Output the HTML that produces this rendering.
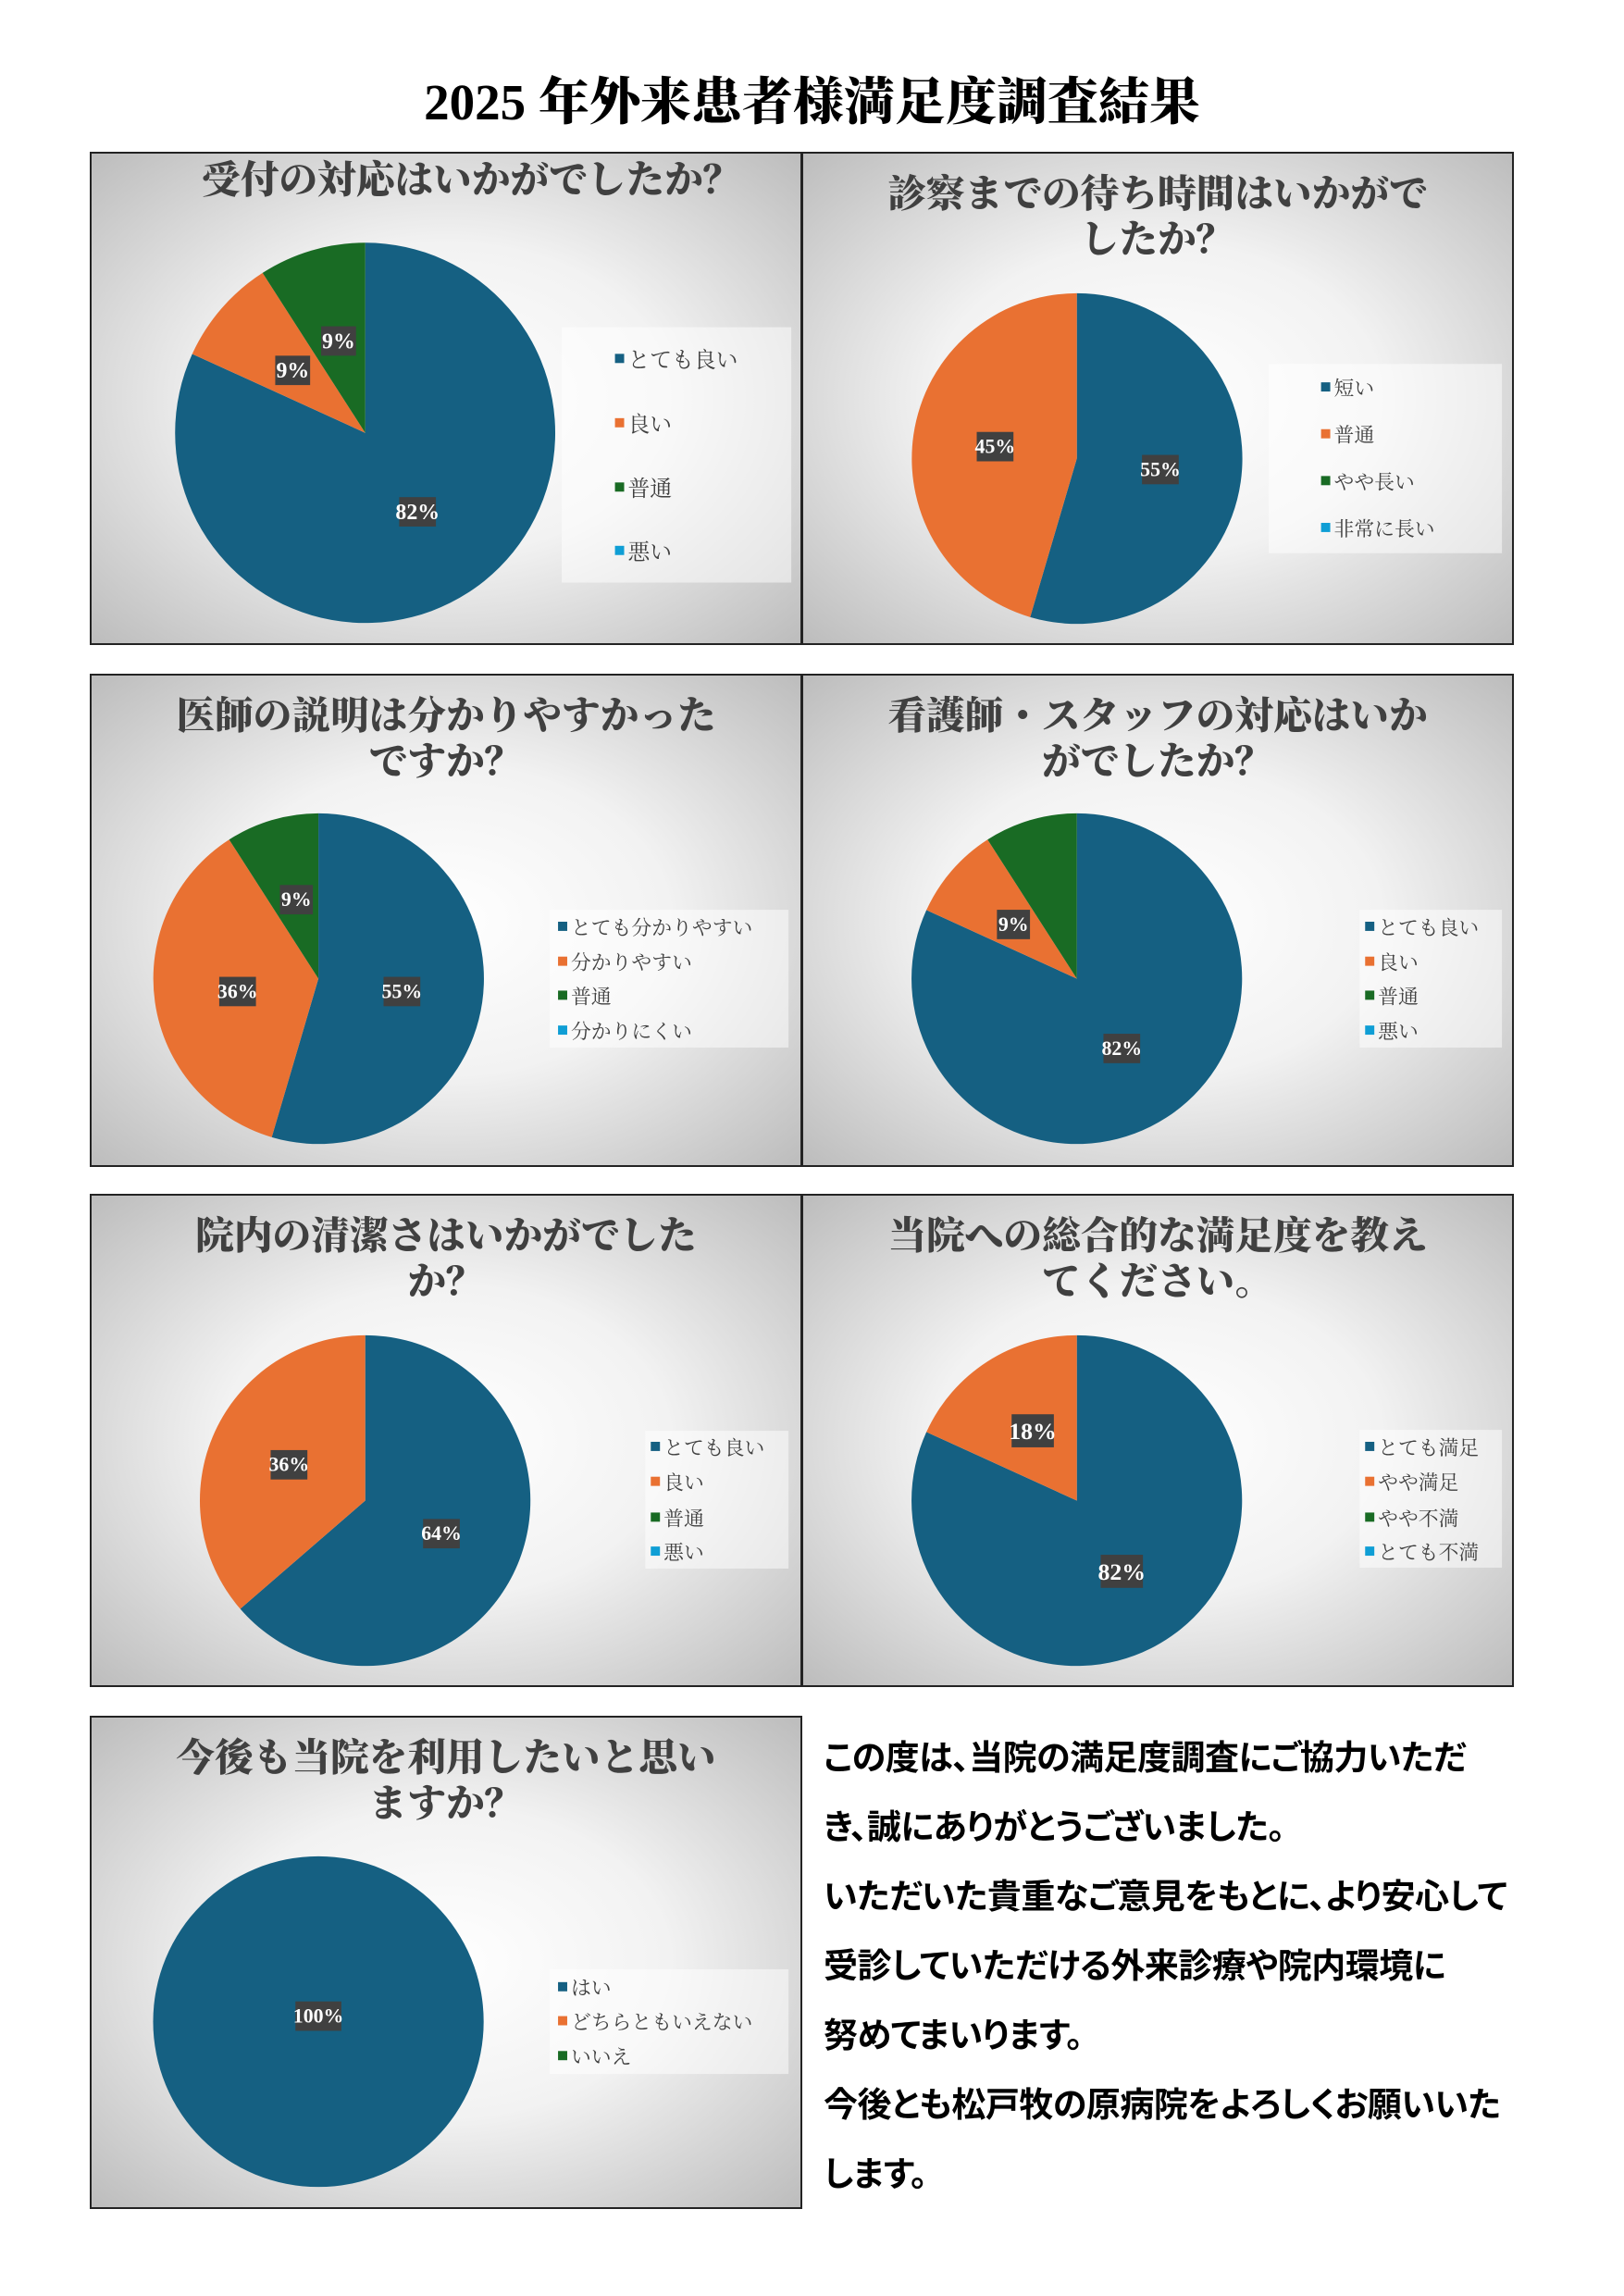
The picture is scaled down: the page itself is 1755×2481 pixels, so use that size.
<!DOCTYPE html>
<html><head><meta charset="utf-8">
<style>
body{margin:0;width:1755px;height:2481px;background:#fff;position:relative;overflow:hidden;}
.t{position:absolute;left:0;width:1755px;top:76px;text-align:center;font-family:"Liberation Serif","Noto Serif CJK SC",serif;font-weight:900;font-size:55px;color:#000;line-height:70px;}
svg{position:absolute;}
.p text{font-family:"Liberation Serif","Noto Serif CJK SC",serif;}
.msg{position:absolute;left:890px;top:1862px;width:820px;font-family:"Liberation Sans","Noto Sans CJK JP",sans-serif;font-weight:700;font-size:37px;line-height:75px;color:#000;letter-spacing:-0.5px;font-feature-settings:"palt" 1;}
</style></head><body>
<div class="t">2025 年外来患者様満足度調査結果</div>
<svg width="0" height="0"><defs>
<radialGradient id="bg" cx="50%" cy="50%" r="70%"><stop offset="0" stop-color="#ffffff"/><stop offset="0.45" stop-color="#f2f2f2"/><stop offset="1" stop-color="#bdbdbd"/></radialGradient>
</defs></svg>

<!-- Panel 1 -->
<svg class="p" style="left:97px;top:164px" width="770" height="533" viewBox="0 0 776 537" preserveAspectRatio="none">
<rect x="1" y="1" width="774" height="535" fill="url(#bg)" stroke="#222" stroke-width="2"/>
<text x="416" y="45" text-anchor="middle" font-size="42" font-weight="900" fill="#404040">受付の対応はいかがでしたか？</text>
<path d="M300,306 L300,99 A207,207 0 1 1 111.6,220.1 Z" fill="#156082"/>
<path d="M300,306 L111.6,220.1 A207,207 0 0 1 188.2,131.9 Z" fill="#E97132"/>
<path d="M300,306 L188.2,131.9 A207,207 0 0 1 300,99 Z" fill="#196B24"/>
<g font-size="24" font-weight="700" fill="#fff" text-anchor="middle">
<rect x="337" y="376" width="40" height="32" fill="#404040"/><text x="357" y="400">82%</text>
<rect x="202" y="222" width="38" height="32" fill="#404040"/><text x="221" y="246">9%</text>
<rect x="252" y="190" width="38" height="32" fill="#404040"/><text x="271" y="214">9%</text>
</g>
<rect x="514" y="191" width="250" height="278" fill="#fff" fill-opacity="0.5"/>
<g font-size="24" fill="#404040">
<rect x="572" y="220" width="10" height="10" fill="#156082"/><text x="586" y="235">とても良い</text>
<rect x="572" y="290" width="10" height="10" fill="#E97132"/><text x="586" y="305">良い</text>
<rect x="572" y="360" width="10" height="10" fill="#196B24"/><text x="586" y="375">普通</text>
<rect x="572" y="429" width="10" height="10" fill="#0F9ED5"/><text x="586" y="444">悪い</text>
</g></svg>

<!-- Panel 2 -->
<svg class="p" style="left:866px;top:164px" width="770" height="533" viewBox="0 0 776 537" preserveAspectRatio="none">
<rect x="1" y="1" width="774" height="535" fill="url(#bg)" stroke="#222" stroke-width="2"/>
<text x="388" y="60" text-anchor="middle" font-size="42" font-weight="900" fill="#404040">診察までの待ち時間はいかがで</text>
<text x="388" y="110" text-anchor="middle" font-size="42" font-weight="900" fill="#404040">したか？</text>
<path d="M300,334 L300,154 A180,180 0 1 1 249.2,506.6 Z" fill="#156082"/>
<path d="M300,334 L249.2,506.6 A180,180 0 0 1 300,154 Z" fill="#E97132"/>
<g font-size="22" font-weight="700" fill="#fff" text-anchor="middle">
<rect x="191" y="305" width="40" height="32" fill="#404040"/><text x="211" y="328">45%</text>
<rect x="371" y="330" width="40" height="32" fill="#404040"/><text x="391" y="353">55%</text>
</g>
<rect x="509" y="231" width="254" height="206" fill="#fff" fill-opacity="0.5"/>
<g font-size="22" fill="#404040">
<rect x="566" y="251" width="10" height="10" fill="#156082"/><text x="580" y="265">短い</text>
<rect x="566" y="302" width="10" height="10" fill="#E97132"/><text x="580" y="316">普通</text>
<rect x="566" y="353" width="10" height="10" fill="#196B24"/><text x="580" y="367">やや長い</text>
<rect x="566" y="404" width="10" height="10" fill="#0F9ED5"/><text x="580" y="418">非常に長い</text>
</g></svg>

<!-- Panel 3 -->
<svg class="p" style="left:97px;top:728px" width="770" height="533" viewBox="0 0 776 537" preserveAspectRatio="none">
<rect x="1" y="1" width="774" height="535" fill="url(#bg)" stroke="#222" stroke-width="2"/>
<text x="388" y="60" text-anchor="middle" font-size="42" font-weight="900" fill="#404040">医師の説明は分かりやすかった</text>
<text x="388" y="110" text-anchor="middle" font-size="42" font-weight="900" fill="#404040">ですか？</text>
<path d="M249,332 L249,152 A180,180 0 1 1 198.2,504.6 Z" fill="#156082"/>
<path d="M249,332 L198.2,504.6 A180,180 0 0 1 151.8,180.6 Z" fill="#E97132"/>
<path d="M249,332 L151.8,180.6 A180,180 0 0 1 249,152 Z" fill="#196B24"/>
<g font-size="22" font-weight="700" fill="#fff" text-anchor="middle">
<rect x="207" y="230" width="36" height="32" fill="#404040"/><text x="225" y="253">9%</text>
<rect x="141" y="330" width="40" height="32" fill="#404040"/><text x="161" y="353">36%</text>
<rect x="320" y="330" width="40" height="32" fill="#404040"/><text x="340" y="353">55%</text>
</g>
<rect x="501" y="257" width="260" height="150" fill="#fff" fill-opacity="0.5"/>
<g font-size="22" fill="#404040">
<rect x="510" y="270" width="10" height="10" fill="#156082"/><text x="524" y="284">とても分かりやすい</text>
<rect x="510" y="308" width="10" height="10" fill="#E97132"/><text x="524" y="322">分かりやすい</text>
<rect x="510" y="345" width="10" height="10" fill="#196B24"/><text x="524" y="359">普通</text>
<rect x="510" y="383" width="10" height="10" fill="#0F9ED5"/><text x="524" y="397">分かりにくい</text>
</g></svg>

<!-- Panel 4 -->
<svg class="p" style="left:866px;top:728px" width="770" height="533" viewBox="0 0 776 537" preserveAspectRatio="none">
<rect x="1" y="1" width="774" height="535" fill="url(#bg)" stroke="#222" stroke-width="2"/>
<text x="388" y="60" text-anchor="middle" font-size="42" font-weight="900" fill="#404040">看護師・スタッフの対応はいか</text>
<text x="388" y="110" text-anchor="middle" font-size="42" font-weight="900" fill="#404040">がでしたか？</text>
<path d="M300,332 L300,152 A180,180 0 1 1 136.2,257.3 Z" fill="#156082"/>
<path d="M300,332 L136.2,257.3 A180,180 0 0 1 202.8,180.6 Z" fill="#E97132"/>
<path d="M300,332 L202.8,180.6 A180,180 0 0 1 300,152 Z" fill="#196B24"/>
<g font-size="22" font-weight="700" fill="#fff" text-anchor="middle">
<rect x="213" y="257" width="36" height="32" fill="#404040"/><text x="231" y="280">9%</text>
<rect x="329" y="392" width="40" height="32" fill="#404040"/><text x="349" y="415">82%</text>
</g>
<rect x="608" y="257" width="155" height="150" fill="#fff" fill-opacity="0.5"/>
<g font-size="22" fill="#404040">
<rect x="614" y="270" width="10" height="10" fill="#156082"/><text x="628" y="284">とても良い</text>
<rect x="614" y="308" width="10" height="10" fill="#E97132"/><text x="628" y="322">良い</text>
<rect x="614" y="345" width="10" height="10" fill="#196B24"/><text x="628" y="359">普通</text>
<rect x="614" y="383" width="10" height="10" fill="#0F9ED5"/><text x="628" y="397">悪い</text>
</g></svg>

<!-- Panel 5 -->
<svg class="p" style="left:97px;top:1290px" width="770" height="533" viewBox="0 0 776 537" preserveAspectRatio="none">
<rect x="1" y="1" width="774" height="535" fill="url(#bg)" stroke="#222" stroke-width="2"/>
<text x="388" y="60" text-anchor="middle" font-size="42" font-weight="900" fill="#404040">院内の清潔さはいかがでした</text>
<text x="388" y="110" text-anchor="middle" font-size="42" font-weight="900" fill="#404040">か？</text>
<path d="M300,334 L300,154 A180,180 0 1 1 163.9,451.9 Z" fill="#156082"/>
<path d="M300,334 L163.9,451.9 A180,180 0 0 1 300,154 Z" fill="#E97132"/>
<g font-size="22" font-weight="700" fill="#fff" text-anchor="middle">
<rect x="197" y="279" width="40" height="32" fill="#404040"/><text x="217" y="302">36%</text>
<rect x="363" y="354" width="40" height="32" fill="#404040"/><text x="383" y="377">64%</text>
</g>
<rect x="605" y="258" width="156" height="150" fill="#fff" fill-opacity="0.5"/>
<g font-size="22" fill="#404040">
<rect x="611" y="270" width="10" height="10" fill="#156082"/><text x="625" y="284">とても良い</text>
<rect x="611" y="308" width="10" height="10" fill="#E97132"/><text x="625" y="322">良い</text>
<rect x="611" y="347" width="10" height="10" fill="#196B24"/><text x="625" y="361">普通</text>
<rect x="611" y="384" width="10" height="10" fill="#0F9ED5"/><text x="625" y="398">悪い</text>
</g></svg>

<!-- Panel 6 -->
<svg class="p" style="left:866px;top:1290px" width="770" height="533" viewBox="0 0 776 537" preserveAspectRatio="none">
<rect x="1" y="1" width="774" height="535" fill="url(#bg)" stroke="#222" stroke-width="2"/>
<text x="388" y="60" text-anchor="middle" font-size="42" font-weight="900" fill="#404040">当院への総合的な満足度を教え</text>
<text x="388" y="110" text-anchor="middle" font-size="42" font-weight="900" fill="#404040">てください。</text>
<path d="M300,334 L300,154 A180,180 0 1 1 136.2,259.3 Z" fill="#156082"/>
<path d="M300,334 L136.2,259.3 A180,180 0 0 1 300,154 Z" fill="#E97132"/>
<g font-size="26" font-weight="700" fill="#fff" text-anchor="middle">
<rect x="229" y="240" width="46" height="36" fill="#404040"/><text x="252" y="267">18%</text>
<rect x="326" y="393" width="46" height="36" fill="#404040"/><text x="349" y="420">82%</text>
</g>
<rect x="608" y="257" width="155" height="150" fill="#fff" fill-opacity="0.5"/>
<g font-size="22" fill="#404040">
<rect x="614" y="270" width="10" height="10" fill="#156082"/><text x="628" y="284">とても満足</text>
<rect x="614" y="308" width="10" height="10" fill="#E97132"/><text x="628" y="322">やや満足</text>
<rect x="614" y="347" width="10" height="10" fill="#196B24"/><text x="628" y="361">やや不満</text>
<rect x="614" y="384" width="10" height="10" fill="#0F9ED5"/><text x="628" y="398">とても不満</text>
</g></svg>

<!-- Panel 7 -->
<svg class="p" style="left:97px;top:1854px" width="770" height="533" viewBox="0 0 776 537" preserveAspectRatio="none">
<rect x="1" y="1" width="774" height="535" fill="url(#bg)" stroke="#222" stroke-width="2"/>
<text x="388" y="60" text-anchor="middle" font-size="42" font-weight="900" fill="#404040">今後も当院を利用したいと思い</text>
<text x="388" y="110" text-anchor="middle" font-size="42" font-weight="900" fill="#404040">ますか？</text>
<circle cx="249" cy="333" r="180" fill="#156082"/>
<g font-size="22" font-weight="700" fill="#fff" text-anchor="middle">
<rect x="224" y="311" width="50" height="32" fill="#404040"/><text x="249" y="334">100%</text>
</g>
<rect x="501" y="276" width="260" height="114" fill="#fff" fill-opacity="0.5"/>
<g font-size="22" fill="#404040">
<rect x="510" y="290" width="10" height="10" fill="#156082"/><text x="524" y="304">はい</text>
<rect x="510" y="327" width="10" height="10" fill="#E97132"/><text x="524" y="341">どちらともいえない</text>
<rect x="510" y="365" width="10" height="10" fill="#196B24"/><text x="524" y="379">いいえ</text>
</g></svg>

<div class="msg">この度は、当院の満足度調査にご協力いただ<br>き、誠にありがとうございました。<br>いただいた貴重なご意見をもとに、より安心して<br>受診していただける外来診療や院内環境に<br>努めてまいります。<br>今後とも松戸牧の原病院をよろしくお願いいた<br>します。</div>
</body></html>
